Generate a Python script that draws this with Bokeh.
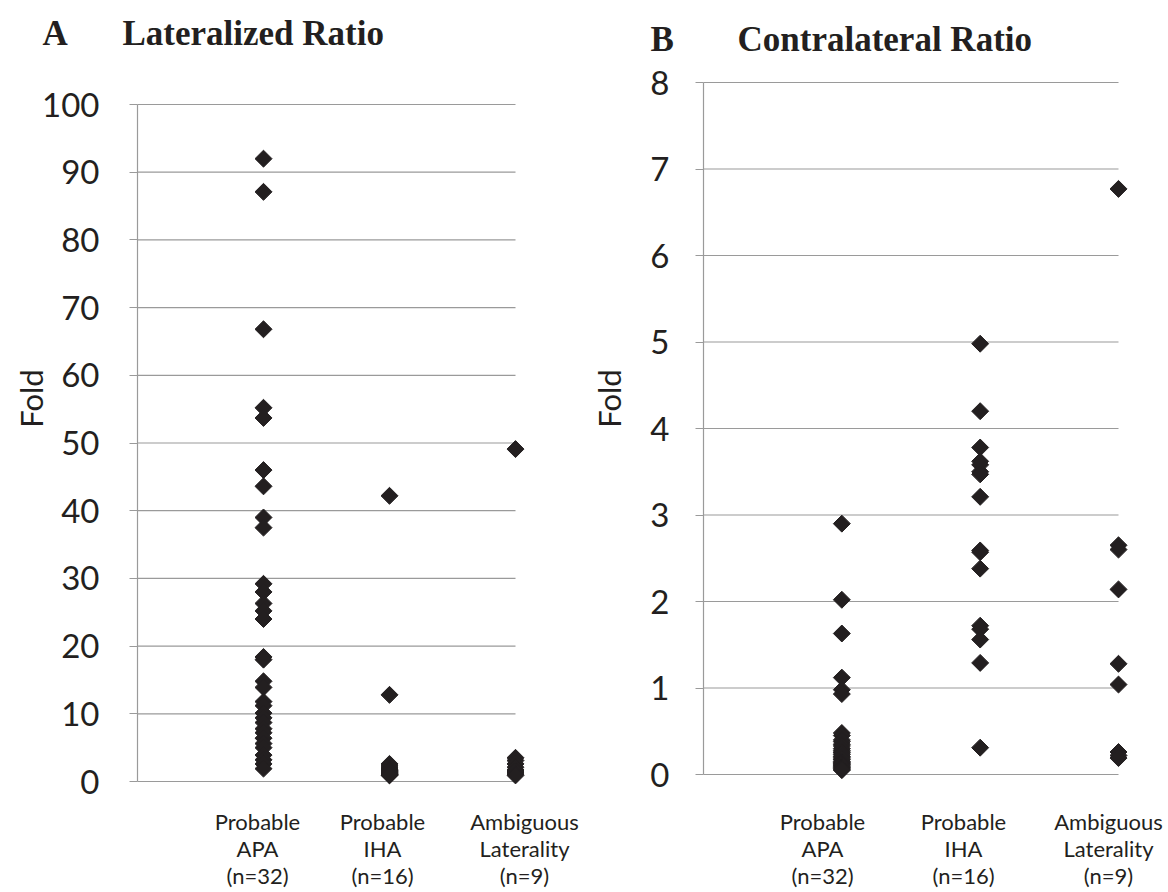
import numpy as np
from bokeh.plotting import figure
from bokeh.layouts import row
from bokeh.models import Label, FixedTicker, LinearAxis
from bokeh.embed import file_html
from bokeh.resources import INLINE

# ---------------- data ----------------
categories = ["Probable\nAPA\n(n=32)", "Probable\nIHA\n(n=16)", "Ambiguous\nLaterality\n(n=9)"]

apa_lat = [92.0, 87.1, 66.8, 55.2, 53.7, 46.0, 43.6, 39.0, 37.5, 29.2, 28.0, 26.3,
           25.2, 24.0, 18.4, 18.0, 14.8, 13.9, 11.8, 11.2, 10.1, 9.4, 8.7, 7.8,
           7.2, 6.4, 5.6, 5.0, 3.9, 3.2, 2.6, 1.9]
iha_lat = [42.2, 12.8, 2.6, 2.3, 2.0, 1.8, 1.7, 1.6, 1.5, 1.4, 1.3, 1.2, 1.1, 1.0, 1.0, 0.9]
amb_lat = [49.1, 3.5, 3.1, 2.6, 2.1, 1.7, 1.4, 1.1, 0.9]

apa_con = [2.90, 2.02, 1.63, 1.12, 0.98, 0.93, 0.48, 0.45, 0.40, 0.38, 0.35, 0.33,
           0.30, 0.28, 0.26, 0.25, 0.23, 0.21, 0.20, 0.18, 0.17, 0.15, 0.14, 0.13,
           0.12, 0.11, 0.10, 0.09, 0.08, 0.07, 0.06, 0.05]
iha_con = [4.98, 4.20, 3.78, 3.62, 3.58, 3.50, 3.47, 3.21, 2.59, 2.57, 2.38, 1.72,
           1.68, 1.56, 1.29, 0.31]
amb_con = [6.77, 2.65, 2.60, 2.14, 1.28, 1.04, 0.26, 0.22, 0.19]

ticks_lat = [0, 10, 20, 30, 40, 50, 60, 70, 80, 90, 100]
ticks_con = [0, 1, 2, 3, 4, 5, 6, 7, 8]

INK = "#231f20"
GRID = "#9a9a9a"
SANS = "Lato"
SERIF = "Liberation Serif"
PAGE_Y0, PAGE_Y1 = 0, 890


def panel(series, ticks, letter, title, fig_x0, fig_w,
          frame_l, grid_r, y_top_px, y0_px, tick_standoff,
          letter_px, title_px, base_px, fold_px, label_cx):
    """All *_px values are positions in the reference picture (page coords).
    The plot frame fills the whole figure; the axis is pinned at x=0."""
    ymax = ticks[-1]
    ppu_y = (y0_px - y_top_px) / ymax
    ppu_x = (grid_r - frame_l) / 3.0

    def dx(px):
        return (px - frame_l) / ppu_x

    def dy(py):
        return (y0_px - py) / ppu_y

    fig_h = PAGE_Y1 - PAGE_Y0
    p = figure(width=fig_w, height=fig_h, output_backend="svg", toolbar_location=None,
               title=None,
               x_range=(dx(fig_x0), dx(fig_x0 + fig_w)),
               y_range=(dy(PAGE_Y1), dy(PAGE_Y0)),
               x_axis_location=None, y_axis_location=None,
               min_border=0, min_border_left=0, min_border_right=0,
               min_border_top=0, min_border_bottom=0)
    p.outline_line_color = None
    p.background_fill_color = "white"
    p.border_fill_color = "white"
    p.grid.visible = False

    ax = LinearAxis(fixed_location=0)
    ax.ticker = FixedTicker(ticks=ticks)
    ax.bounds = (0, ymax)
    ax.axis_line_color = GRID
    ax.axis_line_width = 1.2
    ax.major_tick_line_color = GRID
    ax.major_tick_out = 8
    ax.major_tick_in = 0
    ax.minor_tick_line_color = None
    ax.major_label_text_font = SANS
    ax.major_label_text_font_size = "33px"
    ax.major_label_text_color = INK
    ax.major_label_standoff = tick_standoff
    p.add_layout(ax, "left")

    # horizontal gridlines that stop at the last category
    p.segment(x0=[0] * len(ticks), x1=[3] * len(ticks), y0=ticks, y1=ticks,
              line_color=GRID, line_width=1.2)

    for i, vals in enumerate(series):
        p.scatter([i + 1] * len(vals), vals, marker="square", angle=np.pi / 4,
                  size=12, color=INK)

    p.add_layout(Label(x=dx(letter_px), y=dy(base_px), text=letter, text_font=SERIF,
                       text_font_style="bold", text_font_size="35px", text_color=INK,
                       text_baseline="alphabetic"))
    p.add_layout(Label(x=dx(title_px), y=dy(base_px), text=title, text_font=SERIF,
                       text_font_style="bold", text_font_size="35px", text_color=INK,
                       text_baseline="alphabetic"))
    p.add_layout(Label(x=dx(fold_px[0]), y=dy(fold_px[1]), text="Fold", text_font=SANS,
                       text_font_size="31px", text_color=INK, angle=np.pi / 2,
                       text_align="center", text_baseline="middle"))
    for cx, cat in zip(label_cx, categories):
        for j, line in enumerate(cat.split("\n")):
            p.add_layout(Label(x=dx(cx), y=dy(821 + 27 * j), text=line, text_font=SANS,
                               text_font_size="22px", text_color=INK,
                               text_align="center", text_baseline="middle"))
    return p


pa = panel([apa_lat, iha_lat, amb_lat], ticks_lat, "A", "Lateralized Ratio",
           fig_x0=0, fig_w=590,
           frame_l=137, grid_r=515, y_top_px=104, y0_px=781,
           tick_standoff=30, letter_px=42, title_px=122, base_px=33,
           fold_px=(30, 398), label_cx=(257, 382, 524))

pb = panel([apa_con, iha_con, amb_con], ticks_con, "B", "Contralateral Ratio",
           fig_x0=590, fig_w=576,
           frame_l=703, grid_r=1118, y_top_px=82, y0_px=774,
           tick_standoff=26, letter_px=650, title_px=737, base_px=39,
           fold_px=(608, 398), label_cx=(822, 963, 1108))

layout = row(pa, pb)
open("out.html", "w").write(file_html(layout, INLINE))
